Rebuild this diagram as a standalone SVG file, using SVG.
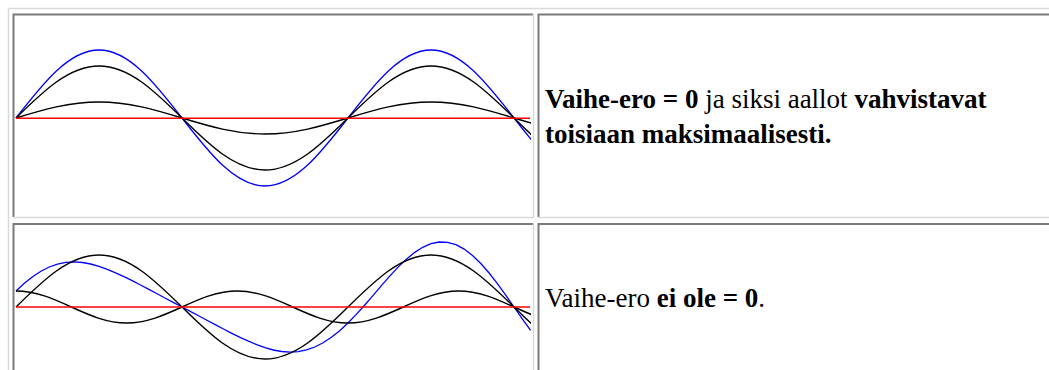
<svg xmlns="http://www.w3.org/2000/svg" width="1049" height="370" viewBox="0 0 1049 370">
<style>
.lt{stroke:#d9d9d9;stroke-width:1.5;fill:none}
.dk{stroke:#7a7a7a;stroke-width:2;fill:none}
.blk{stroke:#000;stroke-width:1.4;fill:none}
.blu{stroke:#0000ff;stroke-width:1.3;fill:none}
.red{stroke:#ff0000;stroke-width:1.6;fill:none}
text{font-family:"Liberation Serif","Times New Roman",serif;font-size:27px;fill:#000}
.b{font-weight:bold}
</style>
<defs>
<clipPath id="c1"><rect x="15" y="15" width="516" height="202"/></clipPath>
<clipPath id="c2"><rect x="15" y="225" width="516" height="145"/></clipPath>
</defs>
<rect x="0" y="0" width="1049" height="370" fill="#fff"/>
<g id="table">
<path class="lt" d="M8.5,370 V8.5 H1049"/>
</g>
<g id="cell-wave-1">
<path class="dk" d="M13.5,217 V14.5 H533"/>
<path class="lt" d="M13.5,217.5 H533.5 V14"/>
<g clip-path="url(#c1)">
<path class="blu" d="M16,118 C43.07,83.16 68.96,50 99,50 C129.04,50 154.93,83.16 182,118 C209.07,152.84 234.96,186 265,186 C295.04,186 320.93,152.84 348,118 C375.07,83.16 400.96,50 431,50 C461.04,50 486.93,83.16 514,118 C541.07,152.84 566.96,186 597,186"/>
<path class="blk" d="M16,118 C43.07,91.36 68.96,66 99,66 C129.04,66 154.93,91.36 182,118 C209.07,144.64 234.96,170 265,170 C295.04,170 320.93,144.64 348,118 C375.07,91.36 400.96,66 431,66 C461.04,66 486.93,91.36 514,118 C541.07,144.64 566.96,170 597,170"/>
<path class="blk" d="M16,118 C43.07,109.8 68.96,102 99,102 C129.04,102 154.93,109.8 182,118 C209.07,126.2 234.96,134 265,134 C295.04,134 320.93,126.2 348,118 C375.07,109.8 400.96,102 431,102 C461.04,102 486.93,109.8 514,118 C541.07,126.2 566.96,134 597,134"/>
<line class="red" x1="16" y1="118.3" x2="530" y2="118.3"/>
</g>
</g>
<g id="cell-text-1">
<path class="dk" d="M538.5,217 V14.5 H1049"/>
<path class="lt" d="M538.5,217.5 H1049"/>
<text x="545" y="108"><tspan class="b">Vaihe-ero = 0</tspan> ja siksi aallot <tspan class="b">vahvistavat</tspan></text>
<text x="545" y="143" class="b">toisiaan maksimaalisesti.</text>
</g>
<g id="cell-wave-2">
<path class="dk" d="M13.5,370 V224 H533"/>
<path class="lt" d="M533.5,223.5 V370"/>
<g clip-path="url(#c2)">
<polyline class="blu" points="16,291 24.3,283.3 32.6,276.7 40.9,271.2 49.2,267 57.5,264.1 65.8,262.4 74.1,261.9 82.4,262.5 90.7,264 99,266.3 107.3,269.3 115.6,272.8 123.9,276.6 132.2,280.7 140.5,285 148.8,289.4 157.1,293.8 165.4,298.2 173.7,302.6 182,307 190.3,311.4 198.6,315.8 206.9,320.2 215.2,324.6 223.5,329 231.8,333.3 240.1,337.4 248.4,341.2 256.7,344.7 265,347.7 273.3,350 281.6,351.5 289.9,352.1 298.2,351.6 306.5,349.9 314.8,347 323.1,342.8 331.4,337.3 339.7,330.7 348,323 356.3,314.4 364.6,305.2 372.9,295.6 381.2,285.8 389.5,276.4 397.8,267.4 406.1,259.4 414.4,252.6 422.7,247.3 431,243.7 439.3,242 447.6,242.3 455.9,244.7 464.2,249.1 472.5,255.5 480.8,263.5 489.1,273 497.4,283.7 505.7,295.1 514,307 522.3,318.9 530.6,330.3"/>
<path class="blk" d="M16,307 C43.07,280.36 68.96,255 99,255 C129.04,255 154.93,280.36 182,307 C209.07,333.64 234.96,359 265,359 C295.04,359 320.93,333.64 348,307 C375.07,280.36 400.96,255 431,255 C461.04,255 486.93,280.36 514,307 C541.07,333.64 566.96,359 597,359"/>
<path class="blk" d="M16,291 C36.03,291 53.29,298.8 71.33,307 C89.37,315.2 106.63,323 126.67,323 C146.7,323 163.96,315.2 182,307 C200.04,298.8 217.3,291 237.33,291 C257.36,291 274.62,298.8 292.67,307 C310.71,315.2 327.97,323 348,323 C368.03,323 385.29,315.2 403.33,307 C421.37,298.8 438.63,291 458.67,291 C478.7,291 495.96,298.8 514,307 C532.04,315.2 549.3,323 569.33,323"/>
<line class="red" x1="16" y1="307" x2="530" y2="307"/>
</g>
</g>
<g id="cell-text-2">
<path class="dk" d="M538.5,370 V224 H1049"/>
<text x="545" y="306.5">Vaihe-ero <tspan class="b">ei ole = 0</tspan>.</text>
</g>
<g id="connectors"/>
</svg>
